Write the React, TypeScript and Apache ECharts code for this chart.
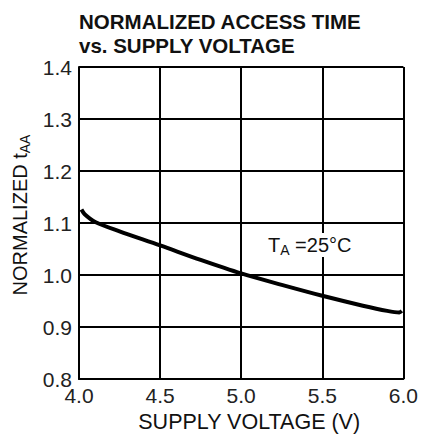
import React, { useEffect, useRef } from "react";
import * as echarts from "echarts";

const titleLines = ["NORMALIZED ACCESS TIME", "vs. SUPPLY VOLTAGE"];
const xAxisName = "SUPPLY VOLTAGE (V)";
const supplyVoltage = [4.015, 4.035, 4.1, 4.25, 4.5, 4.75, 5.0, 5.25, 5.5, 5.75, 5.9, 5.975, 5.99];
const normalizedTaa = [1.126, 1.117, 1.102, 1.084, 1.057, 1.029, 1.003, 0.981, 0.96, 0.941, 0.931, 0.928, 0.931];
const xTicks = [4.0, 4.5, 5.0, 5.5, 6.0];
const yTicks = [0.8, 0.9, 1.0, 1.1, 1.2, 1.3, 1.4];

const FONT = "Liberation Sans, Arial, Helvetica, sans-serif";

export default function App() {
  const ref = useRef<HTMLDivElement>(null);
  useEffect(() => {
    if (!ref.current) return;
    const chart = echarts.init(ref.current, null, { renderer: "svg" });
    const data = supplyVoltage.map((v, i) => [v, normalizedTaa[i]]);
    chart.setOption({
      animation: false,
      backgroundColor: "#ffffff",
      title: {
        text: titleLines.join("\n"),
        left: 79,
        top: 9,
        padding: 0,
        textStyle: { fontFamily: FONT, fontSize: 20.5, fontWeight: "bold", color: "#111", lineHeight: 24 },
      },
      grid: { left: 79, right: 14, top: 67, bottom: 54, containLabel: false },
      xAxis: {
        type: "value",
        min: xTicks[0],
        max: xTicks[xTicks.length - 1],
        interval: 0.5,
        name: xAxisName,
        nameLocation: "middle",
        nameGap: 32,
        nameTextStyle: { fontFamily: FONT, fontSize: 21.5, color: "#111", padding: [0, 0, 0, 16] },
        axisLine: { show: true, lineStyle: { color: "#000", width: 2 } },
        axisTick: { show: false },
        axisLabel: { fontFamily: FONT, fontSize: 21, color: "#222", margin: 6, formatter: (v: number) => v.toFixed(1) },
        splitLine: { show: true, lineStyle: { color: "#000", width: 2 } },
      },
      yAxis: {
        type: "value",
        min: yTicks[0],
        max: yTicks[yTicks.length - 1],
        interval: 0.1,
        name: "{n|NORMALIZED t}{s|AA}",
        nameLocation: "middle",
        nameGap: 47,
        nameTextStyle: {
          fontFamily: FONT,
          fontSize: 20,
          color: "#111",
          padding: [0, 0, 0, 16],
          rich: {
            n: { fontFamily: FONT, fontSize: 20, color: "#111" },
            s: { fontFamily: FONT, fontSize: 14, color: "#111", padding: [10, 0, 0, 0] },
          },
        },
        axisLine: { show: true, lineStyle: { color: "#000", width: 2 } },
        axisTick: { show: false },
        axisLabel: { fontFamily: FONT, fontSize: 21, color: "#222", margin: 7, formatter: (v: number) => v.toFixed(1) },
        splitLine: { show: true, lineStyle: { color: "#000", width: 2 } },
      },
      graphic: [
        {
          type: "text",
          left: 266,
          top: 233,
          z: 100,
          style: {
            text: "{t|T}{s|A}{t| =25°C}",
            fill: "#111",
            backgroundColor: "#fff",
            padding: [0, 2, 0, 2],
            rich: {
              t: { fontFamily: FONT, fontSize: 20, fill: "#111" },
              s: { fontFamily: FONT, fontSize: 14, fill: "#111", padding: [10, 0, 0, 0] },
            },
          },
        },
      ],
      series: [
        {
          type: "line",
          data,
          smooth: 0.3,
          showSymbol: false,
          lineStyle: { color: "#000", width: 4 },
          z: 5,
        },
      ],
    });
    return () => chart.dispose();
  }, []);
  return <div ref={ref} style={{ position: "absolute", left: 0, top: 0, width: 421, height: 438 }} />;
}
